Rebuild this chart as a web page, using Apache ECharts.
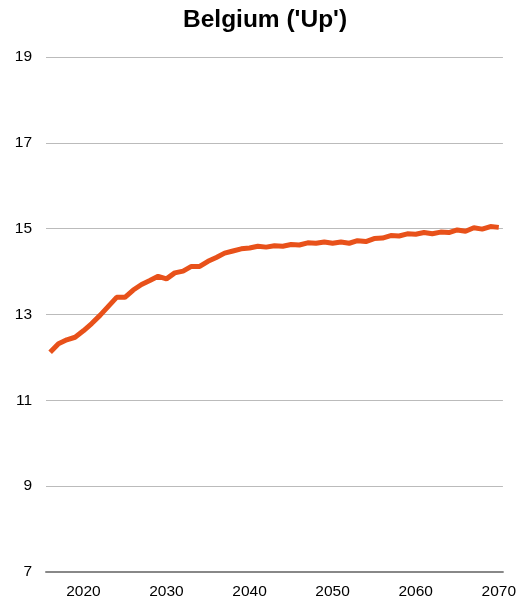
<!DOCTYPE html>
<html>
<head>
<meta charset="utf-8">
<script src="https://cdn.jsdelivr.net/npm/echarts@6/dist/echarts.min.js"></script>
<style>
  html, body { margin: 0; padding: 0; background: #fff; }
  #chart { width: 519px; height: 603px; }
</style>
</head>
<body>
<div id="chart"></div>
<script>
// 年份 2016-2070
const years = []
for (let y = 2016; y <= 2070; y++) years.push(String(y))

// 数值
const values = [
  12.12, 12.32, 12.41, 12.47, 12.62, 12.79, 12.98, 13.19, 13.40, 13.40,
  13.57, 13.70, 13.79, 13.89, 13.83, 13.97, 14.01, 14.12, 14.12, 14.24,
  14.33, 14.43, 14.48, 14.53, 14.55, 14.59, 14.57, 14.60, 14.59, 14.63,
  14.62, 14.67, 14.66, 14.69, 14.66, 14.69, 14.66, 14.72, 14.70, 14.77,
  14.78, 14.84, 14.83, 14.88, 14.87, 14.91, 14.88, 14.92, 14.91, 14.97,
  14.94, 15.02, 14.99, 15.05, 15.03
]

const xTickLabels = ['2020', '2030', '2040', '2050', '2060', '2070']

const chart = echarts.init(document.getElementById('chart'))

const option = {
  animation: false,
  title: {
    text: "Belgium ('Up')",
    left: 178,
    top: 3,
    textStyle: {
      fontFamily: 'Liberation Sans, Arial, sans-serif',
      fontSize: 24.5,
      fontWeight: 'bold',
      color: '#000'
    }
  },
  grid: { left: 46, right: 15, top: 57, bottom: 31 },
  xAxis: {
    type: 'category',
    data: years,
    boundaryGap: true,
    axisLine: { lineStyle: { color: '#888', width: 2 } },
    axisTick: { show: false },
    axisLabel: {
      interval: 0,
      formatter: v => (xTickLabels.includes(v) ? v : ''),
      color: '#000',
      fontSize: 15.5,
      fontFamily: 'Liberation Sans, Arial, sans-serif',
      margin: 12
    },
    splitLine: { show: false }
  },
  yAxis: {
    type: 'value',
    min: 7,
    max: 19,
    interval: 2,
    axisLine: { show: false },
    axisTick: { show: false },
    axisLabel: {
      color: '#000',
      fontSize: 15.5,
      fontFamily: 'Liberation Sans, Arial, sans-serif',
      margin: 14
    },
    splitLine: { lineStyle: { color: '#bbb', width: 1 } }
  },
  series: [{
    type: 'line',
    data: values,
    showSymbol: false,
    lineStyle: { color: '#e8511a', width: 5 },
    itemStyle: { color: '#e8511a' }
  }]
}

chart.setOption(option)
</script>
</body>
</html>
